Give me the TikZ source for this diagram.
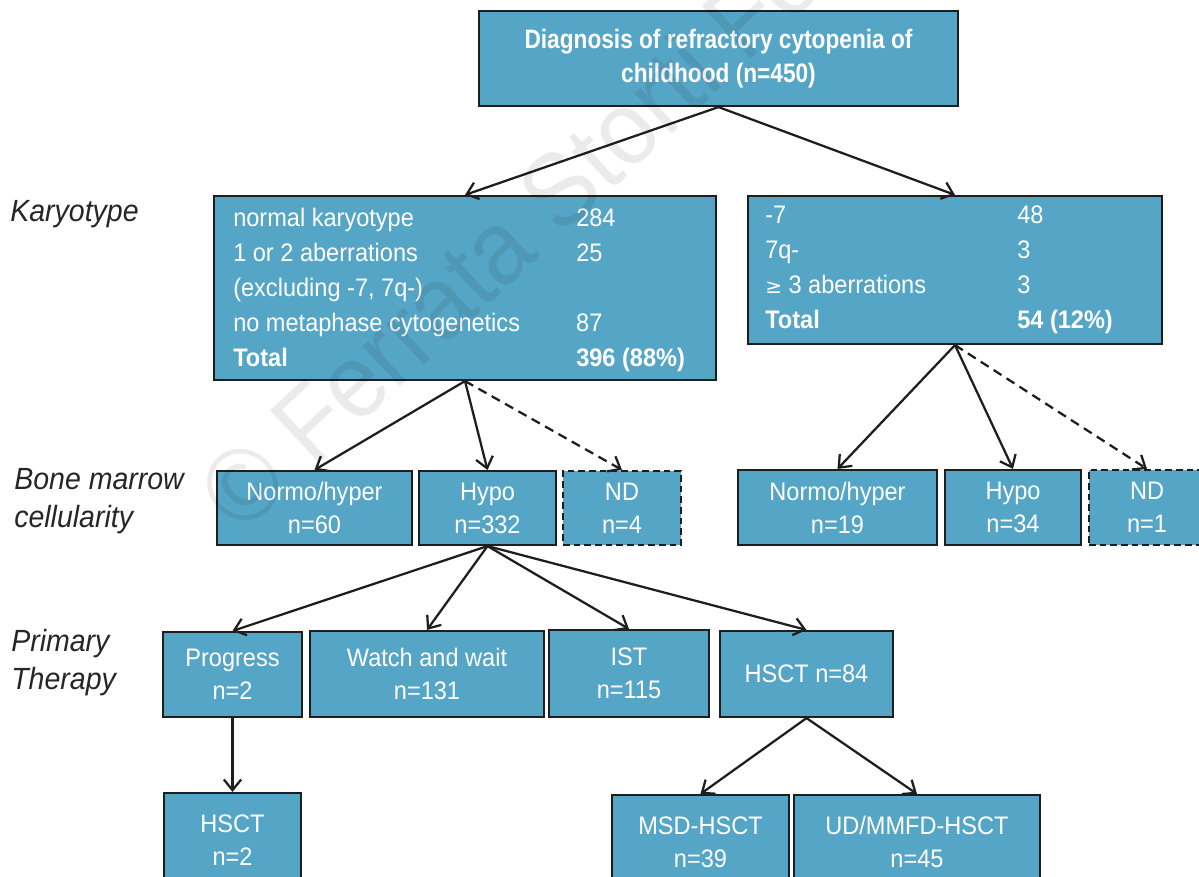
\documentclass[tikz,border=0pt]{standalone}
\usepackage{fontspec}
\setmainfont[FakeStretch=0.93]{Liberation Sans}
\newfontfamily\titlefont[FakeStretch=0.85]{Liberation Sans}
\newfontfamily\symfont{DejaVu Sans}
\usetikzlibrary{arrows.meta}
\definecolor{boxblue}{RGB}{85,165,198}
\definecolor{edge}{RGB}{30,30,30}
\tikzset{
  box/.style={draw=edge, line width=1.6pt, fill=boxblue, text=white, align=center,
    inner sep=0pt, font=\fontsize{19}{24.75}\selectfont},
  dbox/.style={box, dash pattern=on 5pt off 3pt},
  conn/.style={draw=edge, line width=1.7pt, -{Straight Barb[length=8pt,width=13pt,line width=1.7pt]}},
  dconn/.style={conn, dash pattern=on 7pt off 4.5pt},
  side/.style={anchor=north west, align=left, text=black!85, inner sep=0pt, font=\fontsize{23}{28.5}\selectfont\itshape},
}
\begin{document}
\begin{tikzpicture}[x=0.75pt,y=-0.75pt]
\useasboundingbox (0,0) rectangle (1199,876);
\clip (0,0) rectangle (1199,876);
% title
\node[box, minimum width=359.25pt, minimum height=71.25pt, font=\fontsize{20}{25}\selectfont\titlefont\bfseries] (title) at (718.5,58.5) {Diagnosis of refractory cytopenia of\\childhood (n=450)};
% karyotype boxes
\node[box, minimum width=376.5pt, minimum height=138pt] (kl) at (465,288) {};
\node[anchor=west, text=white, inner sep=0pt, align=left] (klt) at (233,289) {\fontsize{19}{26.25}\selectfont
\begin{tabular}{@{}p{257.25pt}@{}l@{}}
normal karyotype & 284\\
1 or 2 aberrations & 25\\
(excluding -7, 7q-) & \\
no metaphase cytogenetics & 87\\
\textbf{Total} & \textbf{396 (88\%)}
\end{tabular}};
\node[box, minimum width=310.5pt, minimum height=111pt] (kr) at (955,270) {};
\node[anchor=west, text=white, inner sep=0pt, align=left] (krt) at (765,269) {\fontsize{19}{26.25}\selectfont
\begin{tabular}{@{}p{189pt}@{}l@{}}
-7 & 48\\
7q- & 3\\
{\symfont\fontsize{15}{18}\selectfont ≥} 3 aberrations & 3\\
\textbf{Total} & \textbf{54 (12\%)}
\end{tabular}};
% bone marrow cellularity
\node[box, minimum width=146.25pt, minimum height=55.5pt] (nh1) at (314.5,508) {Normo/hyper\\n=60};
\node[box, minimum width=102.75pt, minimum height=55.5pt] (hy1) at (487.5,508) {Hypo\\n=332};
\node[dbox, minimum width=88.5pt, minimum height=55.5pt] (nd1) at (622,508) {ND\\n=4};
\node[box, minimum width=149.25pt, minimum height=56.25pt] (nh2) at (837.5,507.5) {Normo/hyper\\n=19};
\node[box, minimum width=102pt, minimum height=56.25pt] (hy2) at (1013,507.5) {Hypo\\n=34};
\node[dbox, minimum width=87pt, minimum height=56.25pt] (nd2) at (1147,507.5) {ND\\n=1};
% primary therapy
\node[box, minimum width=104.25pt, minimum height=63.75pt] (prog) at (232.5,674.5) {Progress\\n=2};
\node[box, minimum width=175.5pt, minimum height=64.5pt] (ww) at (427,674) {Watch and wait\\n=131};
\node[box, minimum width=120pt, minimum height=65.25pt] (ist) at (629,673.5) {IST\\n=115};
\node[box, minimum width=129.75pt, minimum height=64.5pt] (hsct) at (806.5,674) {HSCT n=84};
% last row
\node[box, minimum width=102.75pt, minimum height=70.5pt] (hsct2) at (232.5,840) {HSCT\\n=2};
\node[box, minimum width=132.75pt, minimum height=70.5pt] (msd) at (700.5,842) {MSD-HSCT\\n=39};
\node[box, minimum width=184.5pt, minimum height=70.5pt] (ud) at (917,842) {UD/MMFD-HSCT\\n=45};
% side labels
\node[side] (lk) at (10,200) {Karyotype};
\node[side] (lb) at (14,468) {Bone marrow\\cellularity};
\node[side] (lp) at (11,629) {Primary\\Therapy};
% connectors
\draw[conn] (title.south) -- (kl.north);
\draw[conn] (title.south) -- (kr.north);
\draw[conn] (kl.south) -- (nh1.north);
\draw[conn] (kl.south) -- (hy1.north);
\draw[dconn] (kl.south) -- (nd1.north);
\draw[conn] (kr.south) -- (nh2.north);
\draw[conn] (kr.south) -- (hy2.north);
\draw[dconn] (kr.south) -- (nd2.north);
\draw[conn] (hy1.south) -- (prog.north);
\draw[conn] (hy1.south) -- (ww.north);
\draw[conn] (hy1.south) -- (ist.north);
\draw[conn] (hy1.south) -- (hsct.north);
\draw[conn] (prog.south) -- (hsct2.north);
\draw[conn] (hsct.south) -- (msd.north);
\draw[conn] (hsct.south) -- (ud.north);
% watermark (on top, faint)
\node[rotate=43, anchor=west, inner sep=0pt, text=black, opacity=0.08, font=\fontsize{78}{80}\selectfont] (wm) at (216,508) {© Ferrata Storti Foundation};
\end{tikzpicture}
\end{document}
